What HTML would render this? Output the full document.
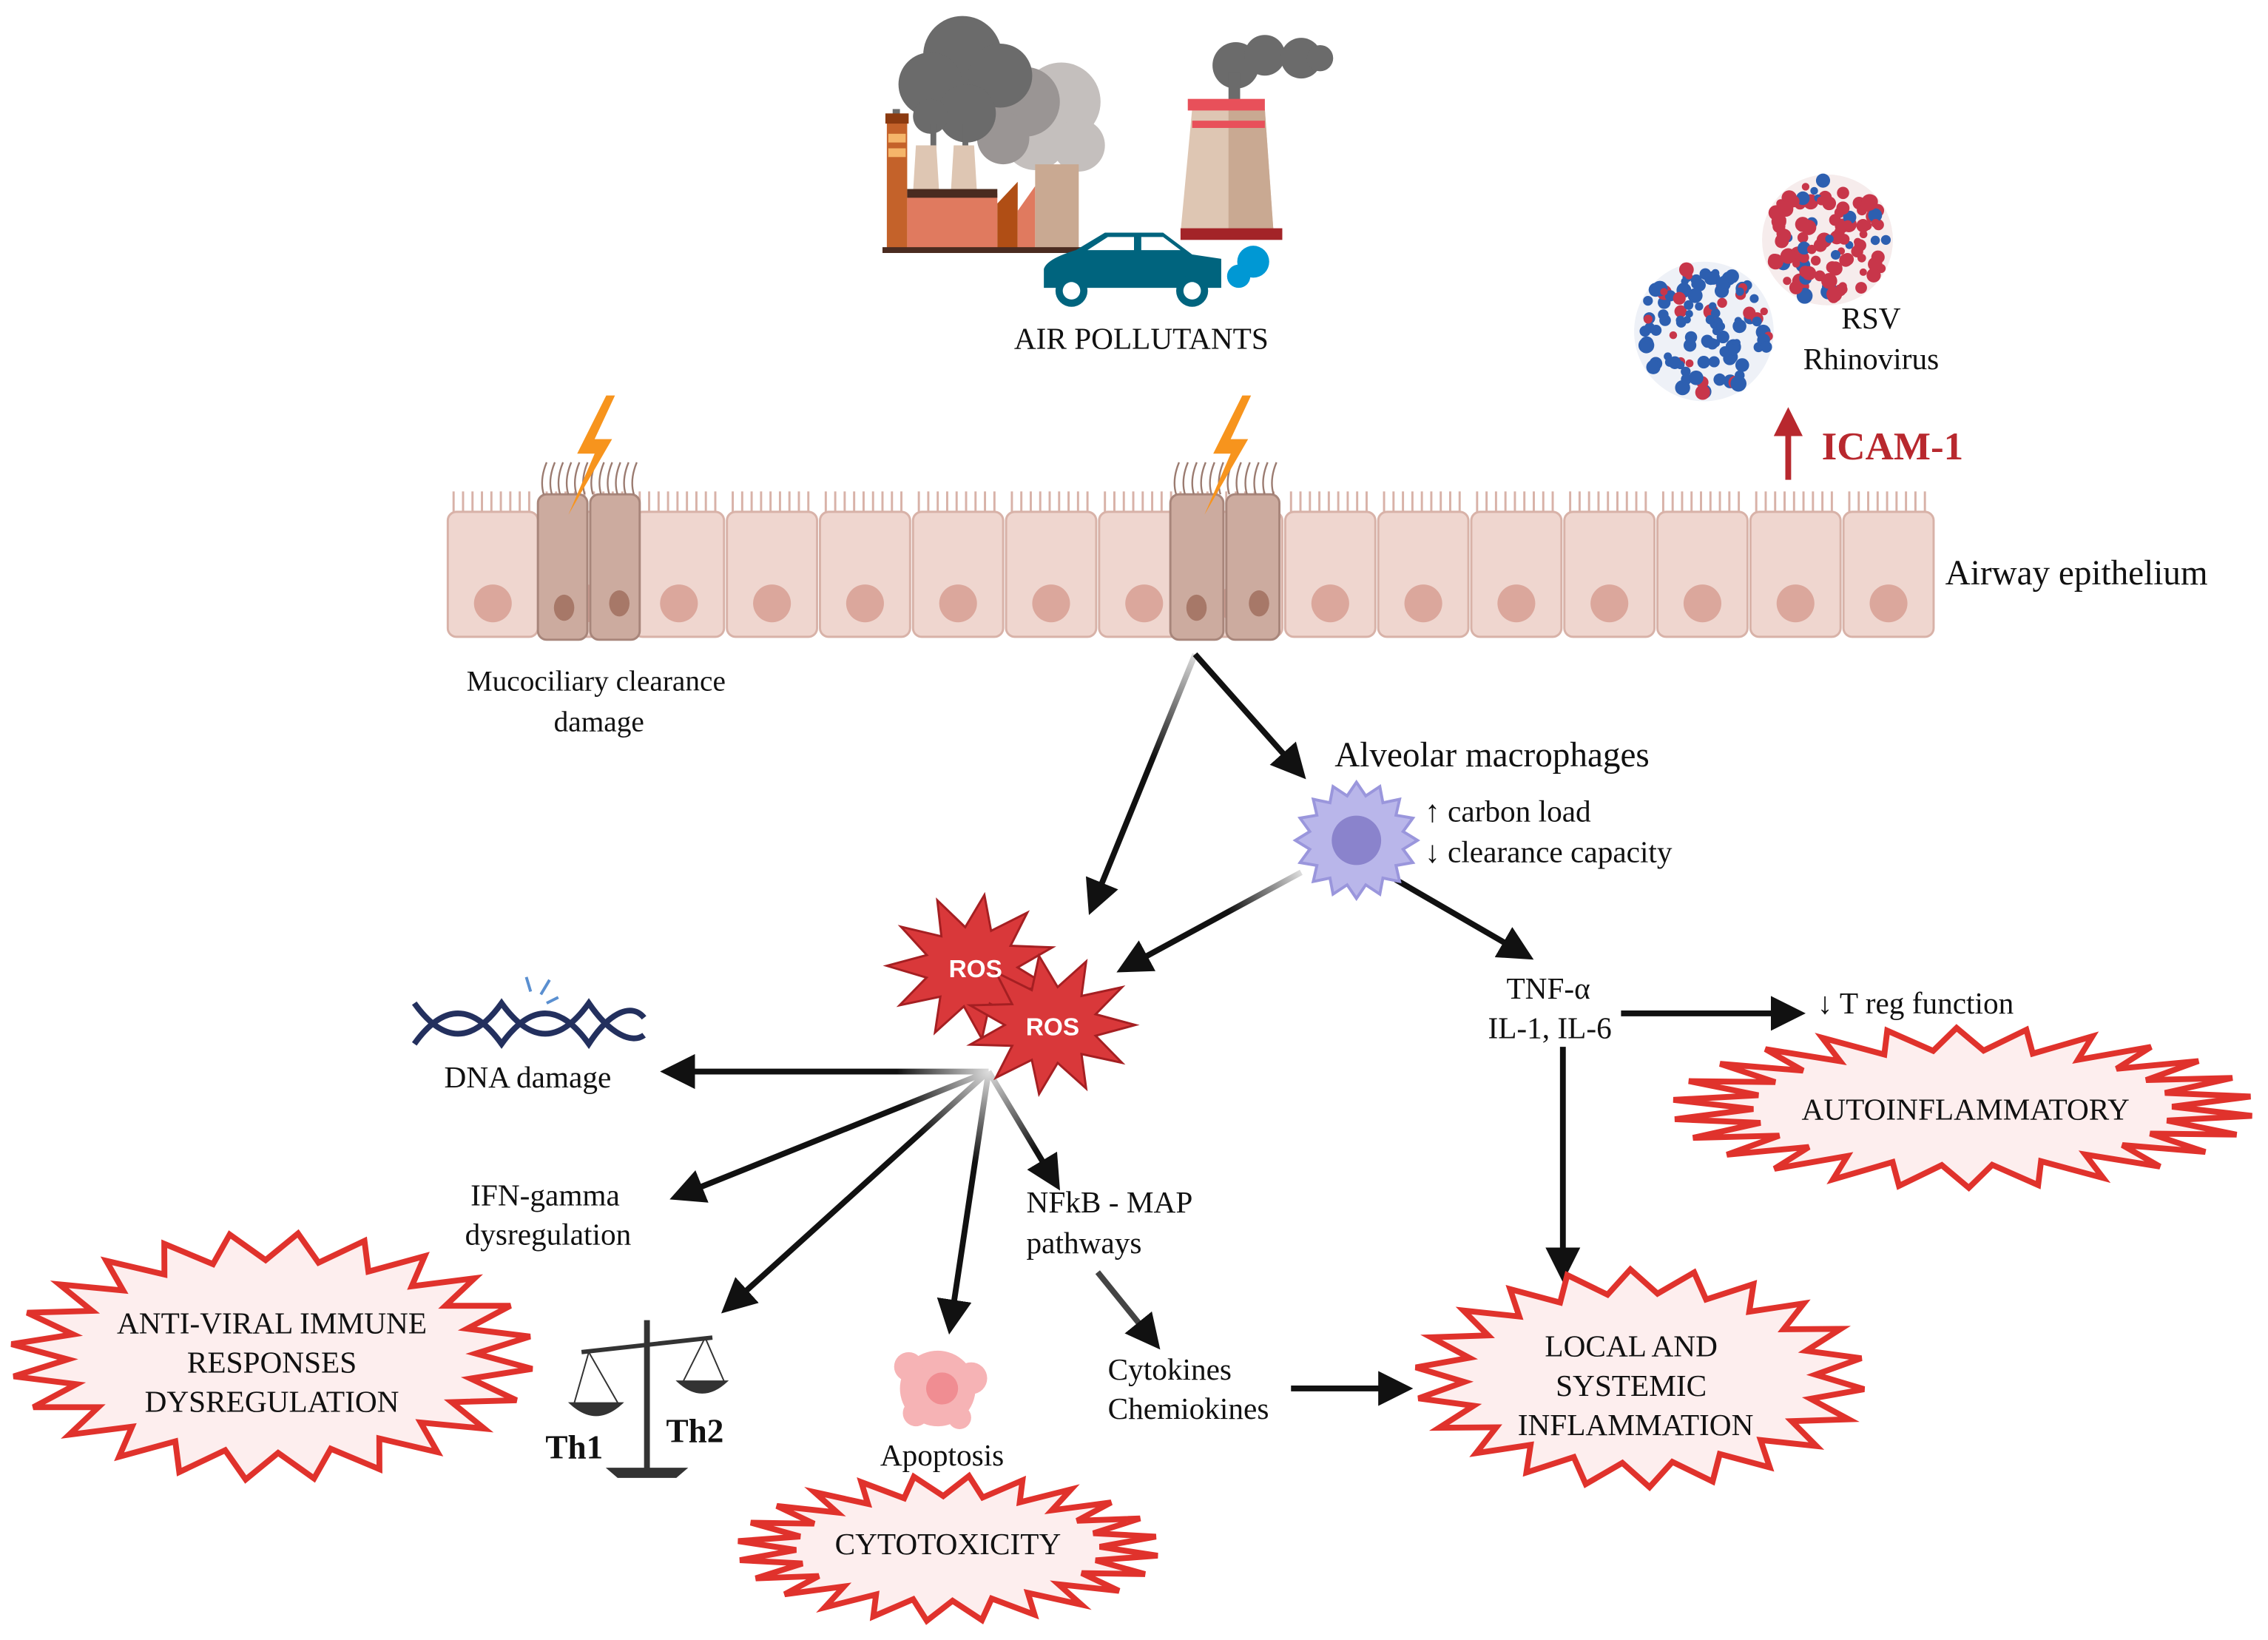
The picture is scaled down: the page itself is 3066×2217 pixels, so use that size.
<!DOCTYPE html>
<html><head><meta charset="utf-8"><style>
html,body{margin:0;padding:0;background:#fff}
svg{display:block}
text{font-family:"Liberation Serif",serif;fill:#111}
</style></head><body>
<svg id="s" width="3066" height="2217" viewBox="0 0 1560 1128" xmlns="http://www.w3.org/2000/svg">
<defs>
<marker id="ah" markerWidth="6" markerHeight="6" refX="4" refY="3" orient="auto" markerUnits="strokeWidth"><path d="M0,0 L6,3 L0,6 z" fill="#111"/></marker>
<marker id="ahr" markerWidth="5" markerHeight="5" refX="3" refY="2.5" orient="auto" markerUnits="strokeWidth"><path d="M0,0 L5,2.5 L0,5 z" fill="#b8282e"/></marker>
<linearGradient id="g1" x1="822" y1="450" x2="750" y2="628" gradientUnits="userSpaceOnUse"><stop offset="0" stop-color="#ddd"/><stop offset="0.4" stop-color="#111"/></linearGradient>
<linearGradient id="g2" x1="895" y1="600" x2="770" y2="668" gradientUnits="userSpaceOnUse"><stop offset="0" stop-color="#ddd"/><stop offset="0.4" stop-color="#111"/></linearGradient>
<radialGradient id="gr" cx="680" cy="737" r="140" gradientUnits="userSpaceOnUse"><stop offset="0" stop-color="#ddd"/><stop offset="0.45" stop-color="#111"/></radialGradient>
</defs>
<!-- factory smoke -->
<g fill="#c4bfbd"><circle cx="730" cy="70" r="27"/><circle cx="712" cy="95" r="22"/><circle cx="742" cy="100" r="18"/></g>
<g fill="#9a9594"><circle cx="705" cy="70" r="24"/><circle cx="690" cy="95" r="18"/></g>
<g fill="#6b6b6b">
<circle cx="662" cy="38" r="27"/><circle cx="640" cy="58" r="22"/><circle cx="688" cy="52" r="22"/><circle cx="665" cy="78" r="20"/><circle cx="640" cy="80" r="12"/>
<rect x="614" y="75" width="5" height="8"/><rect x="640" y="85" width="4" height="18"/><rect x="662" y="85" width="4" height="18"/>
</g>
<rect x="610" y="80" width="14" height="92" fill="#c4622a"/><rect x="609" y="78" width="16" height="7" fill="#8b3a10"/>
<rect x="611" y="92" width="12" height="6" fill="#f5b56a"/><rect x="611" y="102" width="12" height="6" fill="#f5b56a"/>
<polygon points="630,100 644,100 648,165 626,165" fill="#dec6b3"/><polygon points="656,100 670,100 674,165 652,165" fill="#dec6b3"/>
<rect x="624" y="133" width="62" height="40" fill="#e07a5f"/><rect x="624" y="130" width="62" height="6" fill="#4a2b20"/>
<polygon points="686,173 686,140 700,125 700,173" fill="#b04e15"/><polygon points="700,173 700,145 712,128 712,173" fill="#e07a5f"/>
<rect x="712" y="113" width="30" height="60" fill="#c9a992"/>
<rect x="607" y="170" width="138" height="4" fill="#4a2b20"/>
<!-- tower -->
<g fill="#6b6b6b"><circle cx="850" cy="45" r="16"/><circle cx="870" cy="38" r="14"/><circle cx="895" cy="40" r="14"/><circle cx="908" cy="40" r="9"/><rect x="845" y="50" width="8" height="25"/></g>
<polygon points="820,75 870,75 876,160 812,160" fill="#dec6b3"/><polygon points="845,75 870,75 876,160 845,160" fill="#c9a992"/>
<rect x="817" y="68" width="53" height="8" fill="#e8505a"/><rect x="820" y="83" width="50" height="5" fill="#e8505a"/>
<rect x="812" y="157" width="70" height="8" fill="#a32428"/>
<!-- car -->
<path d="M718,198 L718,185 Q720,178 740,172 L760,160 L800,160 L820,175 L840,178 L840,198 Z" fill="#00647e"/>
<path d="M748,172 L762,163 L780,163 L780,172 Z M785,163 L800,163 L812,172 L785,172 Z" fill="#fff"/>
<circle cx="737" cy="200" r="11" fill="#00647e"/><circle cx="737" cy="200" r="6" fill="#fff"/>
<circle cx="820" cy="200" r="11" fill="#00647e"/><circle cx="820" cy="200" r="6" fill="#fff"/>
<g fill="#0098d4"><circle cx="862" cy="180" r="11"/><circle cx="852" cy="190" r="8"/></g>
<text x="785" y="240" font-size="21" text-anchor="middle">AIR POLLUTANTS</text>
<!-- viruses -->
<circle cx="1257" cy="165" r="45" fill="#f6ecec"/><g id="vr"></g>
<circle cx="1172" cy="228" r="48" fill="#eef1f7"/><g id="vb"></g>
<text x="1287" y="226" font-size="21" text-anchor="middle">RSV</text>
<text x="1287" y="254" font-size="21" text-anchor="middle">Rhinovirus</text>
<line x1="1230" y1="330" x2="1230" y2="288" stroke="#b8282e" stroke-width="4" marker-end="url(#ahr)"/>
<text x="1253" y="316" font-size="27" font-weight="bold" style="fill:#b8282e">ICAM-1</text>
<!-- epithelium -->
<g id="epi"></g>
<text x="1338" y="402" font-size="24">Airway epithelium</text>
<text x="410" y="475" font-size="20" text-anchor="middle">Mucociliary clearance</text>
<text x="412" y="503" font-size="20" text-anchor="middle">damage</text>
<!-- arrows -->
<g stroke-width="4" fill="none">
<line x1="822" y1="450" x2="752" y2="622" stroke="url(#g1)" marker-end="url(#ah)"/>
<line x1="822" y1="450" x2="893" y2="530" stroke="#111" marker-end="url(#ah)"/>
<line x1="895" y1="600" x2="775" y2="665" stroke="url(#g2)" marker-end="url(#ah)"/>
<line x1="960" y1="605" x2="1048" y2="656" stroke="#111" marker-end="url(#ah)"/>
<line x1="680" y1="737" x2="462" y2="737" stroke="url(#gr)" marker-end="url(#ah)"/>
<line x1="680" y1="737" x2="468" y2="822" stroke="url(#gr)" marker-end="url(#ah)"/>
<line x1="680" y1="737" x2="502" y2="898" stroke="url(#gr)" marker-end="url(#ah)"/>
<line x1="680" y1="737" x2="654" y2="910" stroke="url(#gr)" marker-end="url(#ah)"/>
<line x1="680" y1="737" x2="725" y2="812" stroke="url(#gr)" marker-end="url(#ah)"/>
<line x1="755" y1="875" x2="793" y2="922" stroke="#444" marker-end="url(#ah)"/>
<line x1="888" y1="955" x2="964" y2="955" stroke="#111" marker-end="url(#ah)"/>
<line x1="1115" y1="697" x2="1234" y2="697" stroke="#111" marker-end="url(#ah)"/>
<line x1="1075" y1="720" x2="1075" y2="874" stroke="#111" marker-end="url(#ah)"/>
</g>
<!-- macrophage -->
<g id="mac"></g>
<text x="918" y="527" font-size="24">Alveolar macrophages</text>
<text x="980" y="565" font-size="21">↑ carbon load</text>
<text x="980" y="593" font-size="21">↓ clearance capacity</text>
<!-- ROS -->
<g id="ros"></g>
<text x="671" y="672" font-size="17" font-weight="bold" text-anchor="middle" style="fill:#fff;font-family:'Liberation Sans',sans-serif">ROS</text>
<text x="724" y="712" font-size="17" font-weight="bold" text-anchor="middle" style="fill:#fff;font-family:'Liberation Sans',sans-serif">ROS</text>
<!-- DNA -->
<g fill="none" stroke="#23305e" stroke-width="4">
<path d="M285,718 C305,690 325,690 345,718 C365,690 385,690 405,718 C420,695 435,690 443,700"/>
<path d="M285,690 C305,718 325,718 345,690 C365,718 385,718 405,690 C420,712 435,718 443,712"/>
</g>
<g stroke="#5a8fd0" stroke-width="2"><line x1="365" y1="682" x2="362" y2="672"/><line x1="372" y1="684" x2="378" y2="674"/><line x1="376" y1="690" x2="384" y2="686"/></g>
<text x="363" y="748" font-size="21" text-anchor="middle">DNA damage</text>
<text x="375" y="829" font-size="21" text-anchor="middle">IFN-gamma</text>
<text x="377" y="856" font-size="21" text-anchor="middle">dysregulation</text>
<!-- scale -->
<g fill="#333" stroke="#333">
<line x1="445" y1="908" x2="445" y2="1010" stroke-width="4"/>
<line x1="400" y1="930" x2="490" y2="920" stroke-width="3"/>
<path d="M418,1010 L472,1010 L465,1016 L425,1016 Z"/>
<line x1="405" y1="930" x2="395" y2="965" stroke-width="1"/><line x1="405" y1="930" x2="425" y2="965" stroke-width="1"/>
<line x1="485" y1="920" x2="470" y2="950" stroke-width="1"/><line x1="485" y1="920" x2="498" y2="950" stroke-width="1"/>
<path d="M392,965 L428,965 Q410,982 392,965Z"/><path d="M466,950 L500,950 Q483,966 466,950Z"/>
</g>
<text x="395" y="1003" font-size="23" font-weight="bold" text-anchor="middle">Th1</text>
<text x="478" y="992" font-size="23" font-weight="bold" text-anchor="middle">Th2</text>
<!-- apoptosis -->
<g fill="#f6b3b5"><circle cx="645" cy="955" r="26"/><circle cx="625" cy="940" r="10"/><circle cx="668" cy="948" r="11"/><circle cx="630" cy="972" r="9"/><circle cx="660" cy="975" r="8"/></g>
<circle cx="648" cy="955" r="11" fill="#f08d92"/>
<text x="648" y="1008" font-size="21" text-anchor="middle">Apoptosis</text>
<text x="706" y="834" font-size="21">NFkB - MAP</text>
<text x="706" y="862" font-size="21">pathways</text>
<text x="762" y="949" font-size="21">Cytokines</text>
<text x="762" y="976" font-size="21">Chemiokines</text>
<text x="1065" y="687" font-size="21" text-anchor="middle">TNF-α</text>
<text x="1066" y="714" font-size="21" text-anchor="middle">IL-1, IL-6</text>
<text x="1250" y="697" font-size="21">↓ T reg function</text>
<!-- starbursts -->
<g id="stars"></g>
<text x="1352" y="770" font-size="21" text-anchor="middle">AUTOINFLAMMATORY</text>
<text x="1122" y="933" font-size="21" text-anchor="middle">LOCAL AND</text>
<text x="1122" y="960" font-size="21" text-anchor="middle">SYSTEMIC</text>
<text x="1125" y="987" font-size="21" text-anchor="middle">INFLAMMATION</text>
<text x="187" y="917" font-size="21" text-anchor="middle">ANTI-VIRAL IMMUNE</text>
<text x="187" y="944" font-size="21" text-anchor="middle">RESPONSES</text>
<text x="187" y="971" font-size="21" text-anchor="middle">DYSREGULATION</text>
<text x="652" y="1069" font-size="21" text-anchor="middle">CYTOTOXICITY</text>
<script>
var NS="http://www.w3.org/2000/svg";
function el(p,t,a){var e=document.createElementNS(NS,t);for(var k in a)e.setAttribute(k,a[k]);p.appendChild(e);return e;}
function burst(cx,cy,rx,ry,n,inner,rot){var p=[];for(var i=0;i<2*n;i++){var a=rot+Math.PI*i/n;var f=i%2?inner:1;p.push((cx+Math.cos(a)*rx*f).toFixed(1)+","+(cy+Math.sin(a)*ry*f).toFixed(1));}return p.join(" ");}
var st=document.getElementById("stars");
[[1350,762,200,55,26,0.72],[1128,948,155,75,22,0.78],[187,933,180,85,24,0.78],[652,1065,145,50,24,0.72]].forEach(function(s){
el(st,"polygon",{points:burst(s[0],s[1],s[2],s[3],s[4],s[5],0.1),fill:"#fdeeee",stroke:"#e0322c","stroke-width":4,"stroke-linejoin":"miter"});});
var ros=document.getElementById("ros");
el(ros,"polygon",{points:burst(668,665,58,50,11,0.55,0.3),fill:"#d9383a",stroke:"#a51f22","stroke-width":1.5});
el(ros,"polygon",{points:burst(723,705,58,48,11,0.55,0),fill:"#d9383a",stroke:"#a51f22","stroke-width":1.5});
var m=document.getElementById("mac");
el(m,"polygon",{points:burst(933,578,42,40,16,0.78,0),fill:"#b9b6ea",stroke:"#9a96dc","stroke-width":2});
el(m,"circle",{cx:933,cy:578,r:17,fill:"#8a83cc"});
var epi=document.getElementById("epi");
var x0=307,w=64;
for(var i=0;i<16;i++){var x=x0+i*w;
el(epi,"rect",{x:x+1,y:352,width:w-2,height:86,rx:6,fill:"#efd6cf",stroke:"#d8b2a8","stroke-width":1.5});
for(var j=0;j<9;j++){el(epi,"line",{x1:x+5+j*6.5,y1:352,x2:x+5+j*6.5,y2:338,stroke:"#d8b2a8","stroke-width":1.5});}
el(epi,"circle",{cx:x+w/2,cy:415,r:13,fill:"#dba79c"});}
[[370,440],[805,880]].forEach(function(d){var a=d[0],b=d[1],mid=(a+b)/2;
el(epi,"rect",{x:a,y:340,width:mid-a-1,height:100,rx:6,fill:"#ccab9f",stroke:"#a8867b","stroke-width":1.5});
el(epi,"rect",{x:mid+1,y:340,width:b-mid-1,height:100,rx:6,fill:"#ccab9f",stroke:"#a8867b","stroke-width":1.5});
el(epi,"ellipse",{cx:a+18,cy:418,rx:7,ry:9,fill:"#a77868"});el(epi,"ellipse",{cx:b-14,cy:415,rx:7,ry:9,fill:"#a77868"});
for(var j=0;j<12;j++){var xx=a+4+j*(b-a-8)/11;el(epi,"path",{d:"M"+xx+",340 q-3,-10 2,-22",stroke:"#9b7b70","stroke-width":1.2,fill:"none"});}
var lx=mid-2,ly=272;
el(epi,"polygon",{points:(lx+14)+","+ly+" "+(lx-6)+","+(ly+40)+" "+(lx+6)+","+(ly+40)+" "+(lx-12)+","+(ly+82)+" "+(lx+18)+","+(ly+30)+" "+(lx+6)+","+(ly+30)+" "+(lx+20)+","+ly,fill:"#f7941d"});});
var seed=7;function rnd(){seed=(seed*16807)%2147483647;return seed/2147483647;}
function virus(g,cx,cy,r,c1,c2){for(var i=0;i<110;i++){var a=rnd()*6.283,d=Math.sqrt(rnd())*r*0.93;
el(g,"circle",{cx:cx+Math.cos(a)*d,cy:cy+Math.sin(a)*d,r:2.5+rnd()*3,fill:i%5?c1:c2});}}
virus(document.getElementById("vr"),1257,165,45,"#c8364a","#2d5fb0");
virus(document.getElementById("vb"),1172,228,48,"#2d5fb0","#c8364a");
</script>
</svg>
</body></html>
